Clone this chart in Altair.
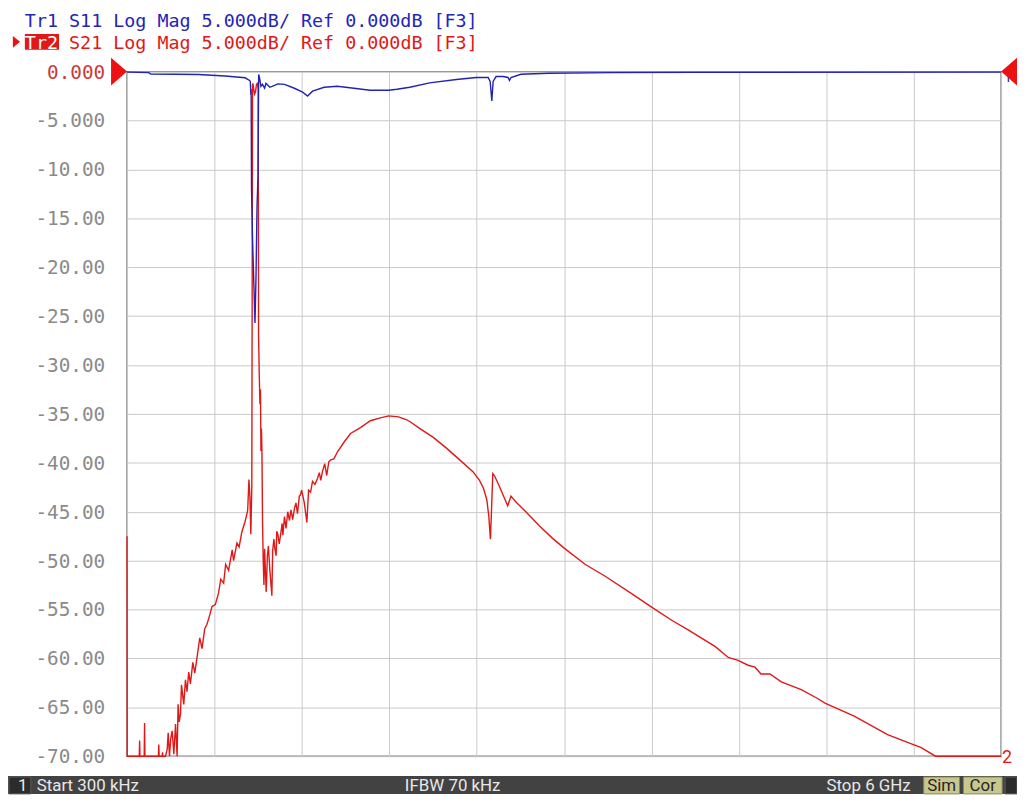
import altair as alt
import pandas as pd

# ---------------- data (frequency in MHz, level in dB) ----------------
F_START = 0.3
F_STOP = 6000.0
REF_LEVEL = 0.0
DB_BOTTOM = -70.0

s21_freq = [0.3, 1.5, 84.0, 86.5, 89.0, 118.0, 120.5, 123.0, 215.5, 218.0, 220.5, 241.5, 243.8, 246.0, 264.2,
            275.8, 282.6, 291.5, 300.0, 309.9, 321.4, 333.0, 343.9, 350.7, 358.0, 367.1, 373.9, 389.5, 401.1,
            412.0, 423.6, 435.2, 451.5, 465.1, 480.8, 499.2, 514.8, 533.2, 548.9, 565.2, 583.6, 606.1, 628.6,
            643.5, 663.3, 676.9, 697.3, 721.9, 731.4, 754.5, 769.5, 787.9, 810.4, 828.1, 836.9, 843.7, 849.9,
            856.7, 859.4, 861.5, 864.2, 868.3, 875.1, 881.9, 888.7, 895.5, 900.3, 903.0, 907.8, 912.6, 916.0,
            919.4, 922.7, 926.1, 930.2, 935.0, 939.8, 944.5, 955.4, 963.6, 970.4, 980.6, 994.3, 999.7, 1008.3,
            1015.0, 1023.5, 1028.0, 1035.1, 1045.0, 1057.6, 1065.0, 1070.0, 1080.7, 1091.6, 1103.2, 1115.0,
            1125.7, 1137.3, 1150.0, 1159.8, 1170.0, 1182.9, 1190.0, 1198.6, 1217.0, 1234.7, 1246.2, 1260.0,
            1273.5, 1290.0, 1307.5, 1320.0, 1330.0, 1341.6, 1357.2, 1370.9, 1385.0, 1398.1, 1420.0, 1443.7,
            1489.3, 1534.3, 1602.4, 1670.5, 1738.6, 1795.8, 1863.9, 1920.4, 1942.9, 2011.0, 2102.2, 2192.8,
            2283.4, 2374.6, 2419.6, 2446.8, 2470.0, 2483.6, 2494.5, 2501.3, 2510.8, 2521.7, 2555.8, 2613.0,
            2635.5, 2669.5, 2737.6, 2828.2, 2919.5, 2998.5, 3146.2, 3282.4, 3466.3, 3595.7, 3738.7, 3854.5,
            4038.3, 4126.9, 4195.0, 4263.0, 4310.7, 4351.6, 4412.9, 4491.2, 4628.1, 4739.8, 4794.2, 4991.7,
            5220.5, 5393.5, 5448.0, 5550.0, 6000.0]
s21_db = [-47.5, -70.0, -70.0, -68.4, -70.0, -70.0, -66.6, -70.0, -70.0, -68.8, -70.0, -70.0, -69.6, -70.0, -70.0,
          -69.3, -67.6, -70.0, -68.2, -67.4, -69.8, -66.7, -70.0, -64.7, -66.5, -65.7, -62.7, -64.7, -62.2,
          -63.4, -61.4, -62.6, -60.4, -61.5, -59.9, -57.9, -59.0, -57.0, -56.5, -55.7, -54.7, -54.5, -53.3,
          -51.9, -52.3, -50.4, -51.0, -48.9, -50.0, -48.2, -48.6, -47.1, -46.0, -44.9, -41.7, -43.5, -47.3,
          -42.4, -20.0, -1.4, -1.2, -1.6, -2.3, -2.1, -1.3, -1.2, -1.8, -27.0, -31.0, -34.0, -32.5,
          -38.8, -36.5, -38.7, -46.0, -50.0, -52.5, -48.8, -53.2, -49.5, -48.5, -51.0, -53.6, -49.0, -47.8,
          -48.8, -49.5, -47.0, -47.3, -48.3, -47.0, -46.2, -47.4, -45.5, -46.7, -45.0, -45.9,
          -44.8, -45.8, -44.6, -44.1, -45.2, -43.4, -43.3, -42.8, -44.1, -46.1, -42.8, -43.0,
          -41.9, -42.2, -41.6, -41.0, -41.8, -40.9, -40.1, -41.3, -39.9, -39.7, -39.6, -38.9,
          -37.9, -37.0, -36.4, -35.7, -35.4, -35.2, -35.3, -35.6, -35.8, -36.5, -37.4, -38.5,
          -39.7, -40.9, -41.8, -42.6, -43.8, -45.5, -47.8, -45.1, -41.1, -41.3, -42.4, -44.4,
          -43.4, -44.0, -45.0, -46.4, -47.7, -48.7, -50.4, -51.6, -53.4, -54.7, -56.1, -57.1,
          -58.8, -59.9, -60.2, -60.7, -60.9, -61.6, -61.6, -62.4, -63.2, -64.1, -64.6, -65.9,
          -67.8, -68.8, -69.1, -70.0, -70.0]

s11_freq = [0.3, 149.8, 163.4, 490.3, 674.2, 810.4, 841.1, 846.5, 849.9, 852.0, 854.7, 861.5, 868.3, 878.5,
            885.4, 892.2, 899.0, 903.7, 909.2, 919.4, 930.0, 944.6, 953.4, 967.1, 980.7, 1012.7, 1035.2,
            1080.8, 1148.9, 1205.4, 1239.5, 1273.5, 1353.2, 1443.8, 1557.5, 1668.5, 1795.9, 1852.4, 1940.9,
            2077.1, 2261.0, 2397.3, 2479.0, 2492.6, 2504.2, 2513.0, 2533.5, 2581.1, 2615.2, 2625.4, 2635.6,
            2703.7, 2894.4, 3330.3, 3895.6, 6000.0]
s11_db = [-0.05, -0.1, -0.25, -0.3, -0.45, -0.63, -0.9, -1.0, -2.4, -1.8, -12.0, -17.0, -20.5, -25.7,
          -21.0, -14.0, -10.7, -0.3, -0.6, -1.5, -1.3, -1.7, -1.2, -1.4, -1.6, -1.4, -1.25,
          -1.3, -1.7, -2.1, -2.5, -2.0, -1.6, -1.5, -1.7, -1.9, -1.9, -1.8, -1.6,
          -1.15, -0.8, -0.6, -0.6, -1.0, -3.0, -1.0, -0.5, -0.5, -0.6, -0.9, -0.6,
          -0.27, -0.17, -0.1, -0.08, -0.05]

header_1 = "Tr1 S11 Log Mag 5.000dB/ Ref 0.000dB [F3]"
header_2_tag = "Tr2"
header_2 = "S21 Log Mag 5.000dB/ Ref 0.000dB [F3]"
status_start = "Start 300 kHz"
status_ifbw = "IFBW 70 kHz"
status_stop = "Stop 6 GHz"
status_channel = "1"

# ---------------- frames ----------------
s21 = pd.DataFrame({"f": s21_freq, "db": s21_db})
s21["i"] = range(len(s21))
s11 = pd.DataFrame({"f": s11_freq, "db": s11_db})
s11["i"] = range(len(s11))

y_levels = [REF_LEVEL - 5 * k for k in range(15)]


def fmt(v):
    return f"{v:.3f}" if abs(v) < 10 else f"{v:.2f}"


ylab = pd.DataFrame({
    "db": y_levels,
    "label": [fmt(v) for v in y_levels],
    "col": ["#cc3a3a" if v == REF_LEVEL else "#8a8a8a" for v in y_levels],
})
ref_df = pd.DataFrame({"db": [REF_LEVEL]})
one = pd.DataFrame({"a": [0]})

x_grid = [F_START + k * (F_STOP - F_START) / 10 for k in range(11)]

xs = alt.Scale(domain=[F_START, F_STOP], nice=False, zero=False)
ys = alt.Scale(domain=[DB_BOTTOM, REF_LEVEL], nice=False, zero=False)
xaxis = alt.Axis(values=x_grid, labels=False, ticks=False, domain=False, title=None,
                 grid=True, gridColor="#c9c9c9", gridWidth=1)
yaxis = alt.Axis(values=y_levels, labels=False, ticks=False, domain=False, title=None,
                 grid=True, gridColor="#c9c9c9", gridWidth=1)


def X():
    return alt.X("f:Q", scale=xs, axis=xaxis)


def Y():
    return alt.Y("db:Q", scale=ys, axis=yaxis)


MONO = "DejaVu Sans Mono"
SANS = "Roboto"
HFS = 18.5            # header font size
CW = HFS * 0.602      # monospace advance
Y1 = -44.5            # header line 1 baseline (relative to plot top)
Y2 = -23              # header line 2 baseline

red_line = alt.Chart(s21).mark_line(color="#e01818", strokeWidth=1.4).encode(
    x=X(), y=Y(), order="i:Q")
blue_line = alt.Chart(s11).mark_line(color="#2222b4", strokeWidth=1.4).encode(
    x=X(), y=Y(), order="i:Q")

ylabels = alt.Chart(ylab).mark_text(font=MONO, fontSize=19.5, align="right", baseline="alphabetic", dy=7).encode(
    y=Y(), x=alt.value(-22), text="label:N", color=alt.Color("col:N", scale=None))

tri_left = alt.Chart(ref_df).mark_point(shape="M-1.15,-1L0,0L-1.15,1Z", size=784, filled=True,
                                        color="#ee1111", opacity=1, strokeWidth=0).encode(
    y=Y(), x=alt.value(0))
one_lab = alt.Chart(one).mark_text(text="1", font=SANS, fontSize=14, color="#2222b4", align="left").encode(
    x=alt.value(884), y=alt.value(6))
tri_right = alt.Chart(ref_df).mark_point(shape="M1.15,-1L0,0L1.15,1Z", size=784, filled=True,
                                         color="#ee1111", opacity=1, strokeWidth=0).encode(
    y=Y(), x=alt.value(881))
two_lab = alt.Chart(one).mark_text(text="2", font=SANS, fontSize=18, color="#e01818", align="left",
                                   baseline="alphabetic").encode(x=alt.value(882), y=alt.value(697))

h1 = alt.Chart(one).mark_text(text=header_1, font=MONO, fontSize=HFS, color="#2424b8", align="left",
                              baseline="alphabetic").encode(x=alt.value(-103), y=alt.value(Y1))
h2box = alt.Chart(one).mark_rect(color="#e01818").encode(
    x=alt.value(-103), x2=alt.value(-103 + 3 * CW + 1), y=alt.value(Y2 - 15), y2=alt.value(Y2 + 1))
h2tag = alt.Chart(one).mark_text(text=header_2_tag, font=MONO, fontSize=HFS, color="#ffffff", align="left",
                                 baseline="alphabetic").encode(x=alt.value(-103), y=alt.value(Y2))
h2 = alt.Chart(one).mark_text(text=header_2, font=MONO, fontSize=HFS, color="#e01818", align="left",
                              baseline="alphabetic").encode(x=alt.value(-103 + 4 * CW), y=alt.value(Y2))
h2tri = alt.Chart(one).mark_point(shape="M-0.6,-1L0.6,0L-0.6,1Z", size=144, filled=True,
                                  color="#ee1111", opacity=1, strokeWidth=0).encode(
    x=alt.value(-111.5), y=alt.value(Y2 - 7))

# status bar
bar = alt.Chart(one).mark_rect(color="#424242").encode(
    x=alt.value(-120), x2=alt.value(897), y=alt.value(710), y2=alt.value(728))
chbox = alt.Chart(one).mark_rect(color="#2c2c2c", stroke="#5c5c5c", strokeWidth=1).encode(
    x=alt.value(-119), x2=alt.value(-97), y=alt.value(711), y2=alt.value(728))
simbox = alt.Chart(one).mark_rect(color="#c8c88e", stroke="#8a8a60", strokeWidth=1).encode(
    x=alt.value(803), x2=alt.value(839), y=alt.value(711), y2=alt.value(728))
corbox = alt.Chart(one).mark_rect(color="#c8c88e", stroke="#8a8a60", strokeWidth=1).encode(
    x=alt.value(843), x2=alt.value(882), y=alt.value(711), y2=alt.value(728))
endbox = alt.Chart(one).mark_rect(color="#2c2c2c", stroke="#5c5c5c", strokeWidth=1).encode(
    x=alt.value(885), x2=alt.value(897), y=alt.value(711), y2=alt.value(728))


def status_text(txt, x, color="#e8e8e8", align="left"):
    return alt.Chart(one).mark_text(text=txt, font=SANS, fontSize=17, color=color, align=align,
                                    baseline="alphabetic").encode(x=alt.value(x), y=alt.value(725))


st_ch = status_text(status_channel, -110)
st_start = status_text(status_start, -91)
st_ifbw = status_text(status_ifbw, 280)
st_stop = status_text(status_stop, 705)
st_sim = status_text("Sim", 821, color="#262626", align="center")
st_cor = status_text("Cor", 862.5, color="#262626", align="center")

chart = alt.layer(
    red_line, blue_line, ylabels, tri_left, one_lab, tri_right, two_lab,
    h1, h2box, h2tag, h2, h2tri,
    bar, chbox, simbox, corbox, endbox, st_ch, st_start, st_ifbw, st_stop, st_sim, st_cor,
).properties(
    width=881, height=690,
    padding={"left": 120, "top": 61, "right": 16, "bottom": 38},
    autosize=alt.AutoSizeParams(type="none"),
    background="#ffffff",
).configure_view(stroke="#7c7c7c", strokeWidth=1.5)

chart.save("out.html", embed_options={"renderer": "svg", "actions": False})
